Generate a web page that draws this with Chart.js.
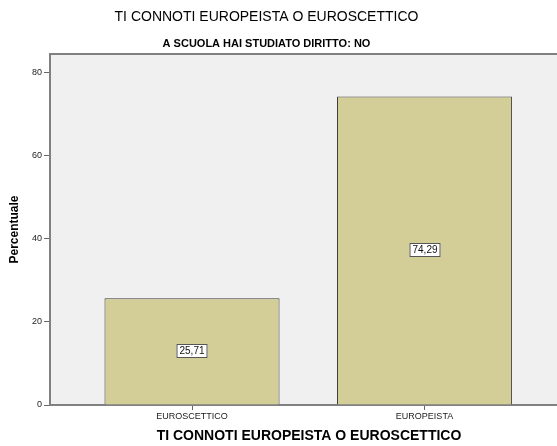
<!DOCTYPE html>
<html>
<head>
<meta charset="utf-8">
<script src="https://cdn.jsdelivr.net/npm/chart.js@4"></script>
<style>
  body { margin: 0; background: #fff; overflow: hidden; }
  .wrap { position: relative; width: 557px; height: 446px; overflow: hidden; }
  #chart { position: absolute; left: -35px; top: 0; }
</style>
</head>
<body>
<div class="wrap">
  <canvas id="chart" width="603" height="446"></canvas>
</div>
<script>
const categories = ['EUROSCETTICO', 'EUROPEISTA'];
const percentages = [25.71, 74.29];
const chartTitle = 'TI CONNOTI EUROPEISTA O EUROSCETTICO';
const chartSubtitle = 'A SCUOLA HAI STUDIATO DIRITTO: NO';
const xTitle = 'TI CONNOTI EUROPEISTA O EUROSCETTICO';
const yTitle = 'Percentuale';

const fontFamily = '"Liberation Sans", Arial, sans-serif';

// grey plot background with a border, like SPSS output
const plotBackground = {
    id: 'plotBackground',
    beforeDraw(chart) {
        const { ctx, chartArea: a } = chart;
        ctx.save();
        ctx.fillStyle = '#f0f0f0';
        ctx.fillRect(a.left, a.top, a.right - a.left, a.bottom - a.top);
        ctx.strokeStyle = '#808080';
        ctx.lineWidth = 2;
        ctx.beginPath();
        ctx.moveTo(a.left, a.top);
        ctx.lineTo(a.right - 1, a.top);
        ctx.lineTo(a.right - 1, a.bottom);
        ctx.stroke();
        ctx.restore();
    }
};

// boxed value labels in the middle of each bar
const valueBoxes = {
    id: 'valueBoxes',
    afterDatasetsDraw(chart) {
        const { ctx } = chart;
        const meta = chart.getDatasetMeta(0);
        ctx.save();
        ctx.font = '10px ' + fontFamily;
        ctx.textAlign = 'center';
        ctx.textBaseline = 'middle';
        meta.data.forEach((bar, i) => {
            const text = percentages[i].toFixed(2).replace('.', ',');
            const w = Math.round(ctx.measureText(text).width) + 6;
            const h = 14;
            const cx = Math.round(bar.x);
            const cy = Math.round((bar.y + bar.base) / 2);
            ctx.fillStyle = '#fff';
            ctx.fillRect(cx - w / 2, cy - h / 2, w, h);
            ctx.strokeStyle = '#555';
            ctx.lineWidth = 1;
            ctx.strokeRect(cx - w / 2 + 0.5, cy - h / 2 + 0.5, w - 1, h - 1);
            ctx.fillStyle = '#111';
            ctx.fillText(text, cx, cy + 0.5);
        });
        ctx.restore();
    }
};

new Chart(document.getElementById('chart'), {
    type: 'bar',
    data: {
        datasets: [{
            data: percentages.map((v, i) => ({ x: i, y: v })),
            backgroundColor: '#d3ce97',
            borderColor: '#3d3d3d',
            borderWidth: 1,
            barPercentage: 0.753,
            categoryPercentage: 1
        }]
    },
    options: {
        responsive: false,
        animation: false,
        layout: { padding: { top: 0, right: 0, bottom: 1, left: 0 } },
        plugins: {
            legend: { display: false },
            tooltip: { enabled: false },
            title: {
                display: true,
                text: chartTitle,
                color: '#000',
                font: { family: fontFamily, size: 14, weight: 'normal' },
                padding: { top: 8.6, bottom: 0 }
            },
            subtitle: {
                display: true,
                text: chartSubtitle,
                color: '#000',
                font: { family: fontFamily, size: 11, weight: 'bold' },
                padding: { top: 12, bottom: 3.4 }
            }
        },
        scales: {
            x: {
                type: 'linear',
                offset: false,
                min: -0.6108,
                max: 1.617,
                grid: { offset: false, drawOnChartArea: false, tickLength: 5, color: '#666' },
                border: { color: '#808080', width: 2 },
                afterBuildTicks(scale) {
                    scale.ticks = scale.ticks.filter(t => Number.isInteger(t.value));
                },
                ticks: {
                    stepSize: 1,
                    includeBounds: false,
                    padding: 1,
                    color: '#222',
                    font: { family: fontFamily, size: 9 },
                    callback: v => categories[v] ?? ''
                },
                title: {
                    display: true,
                    text: xTitle,
                    color: '#000',
                    font: { family: fontFamily, size: 14, weight: 'bold' },
                    padding: { top: 5.4, bottom: 0 }
                }
            },
            y: {
                min: 0,
                max: 84.5,
                grid: { drawOnChartArea: false, tickLength: 6, color: '#666' },
                border: { color: '#808080', width: 2 },
                ticks: {
                    stepSize: 20,
                    includeBounds: false,
                    padding: 2,
                    color: '#222',
                    font: { family: fontFamily, size: 9 }
                },
                title: {
                    display: true,
                    text: yTitle,
                    color: '#000',
                    font: { family: fontFamily, size: 12, weight: 'bold' },
                    padding: { top: 42.8, bottom: 0 }
                },
                afterFit(scale) { scale.width = 85; }
            }
        }
    },
    plugins: [plotBackground, valueBoxes]
});
</script>
</body>
</html>
